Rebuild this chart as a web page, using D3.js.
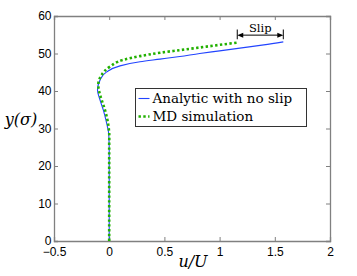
<!DOCTYPE html>
<html>
<head>
<meta charset="utf-8">
<script src="https://cdn.jsdelivr.net/npm/d3@7"></script>
<style>
  body { margin: 0; background: #fff; }
  svg { display: block; }
</style>
</head>
<body>
<script>
// analytic profile (no slip)
var analyticY = [0, 10, 20, 25, 27, 29, 31.4, 34.9, 37.6, 40.3, 42.9, 45.1, 46.7, 47.8, 48.5, 49.2, 50.0, 50.7, 51.5, 52.3, 53.1];
var analyticU = [0, 0, 0, 0, -0.002, -0.006, -0.023, -0.053, -0.083, -0.106, -0.083, -0.023, 0.098, 0.279, 0.46, 0.64, 0.82, 1.0, 1.2, 1.4, 1.577];

// MD simulation profile
var mdY = [0, 10, 20, 26, 27.8, 30.9, 34.9, 37.6, 39.5, 41.6, 44.3, 46.5, 48.3, 49.3, 50.2, 50.9, 51.6, 52.3, 52.9];
var mdU = [0, 0, 0, 0, 0.001, -0.008, -0.038, -0.068, -0.088, -0.099, -0.068, 0.007, 0.128, 0.279, 0.461, 0.64, 0.82, 1.0, 1.16];

var xTicks = [-0.5, 0, 0.5, 1, 1.5, 2];
var yTicks = [0, 10, 20, 30, 40, 50, 60];
var legendLabels = ["Analytic with no slip", "MD simulation"];

var width = 357, height = 276;
var margin = {top: 16, right: 27, bottom: 35, left: 54};
var w = width - margin.left - margin.right, h = height - margin.top - margin.bottom;
var serif = "'DejaVu Serif', 'Liberation Serif', serif";
var sans = "'Liberation Sans', Arial, sans-serif";

var svg = d3.select("body").append("svg")
  .attr("width", width)
  .attr("height", height);

var g = svg.append("g").attr("transform", "translate(" + margin.left + "," + margin.top + ")");

var x = d3.scaleLinear().domain([-0.5, 2]).range([0, w]);
var y = d3.scaleLinear().domain([0, 60]).range([h, 0]);

var axisColor = "#808080";

// axes, MATLAB style: ticks inside on all four sides
var xAxis = g.append("g").attr("transform", "translate(0," + h + ")")
  .call(d3.axisBottom(x).tickValues(xTicks).tickSize(-4).tickPadding(6).tickFormat(d3.format("")));
var yAxis = g.append("g")
  .call(d3.axisLeft(y).tickValues(yTicks).tickSize(-4).tickPadding(2.5));
var xTop = g.append("g")
  .call(d3.axisTop(x).tickValues(xTicks).tickSize(-4).tickFormat(""));
var yRight = g.append("g").attr("transform", "translate(" + w + ",0)")
  .call(d3.axisRight(y).tickValues(yTicks).tickSize(-4).tickFormat(""));

[xAxis, yAxis, xTop, yRight].forEach(function(a){
  a.attr("font-family", sans).attr("font-size", 12);
  a.select(".domain").attr("stroke", axisColor).attr("stroke-width", 1.3);
  a.selectAll(".tick line").attr("stroke", axisColor);
  a.selectAll(".tick text").attr("fill", "#000");
});
xAxis.selectAll(".tick text").text(function(d){ return d < 0 ? "\u2212" + Math.abs(d) : d; });

var line = d3.line()
  .x(function(d){ return x(d[0]); })
  .y(function(d){ return y(d[1]); })
  .curve(d3.curveMonotoneY);

var analytic = analyticU.map(function(u, i){ return [u, analyticY[i]]; });
var md = mdU.map(function(u, i){ return [u, mdY[i]]; });

g.append("path").datum(analytic)
  .attr("d", line)
  .attr("fill", "none")
  .attr("stroke", "#2244ff")
  .attr("stroke-width", 1.1);

g.append("path").datum(md)
  .attr("d", line)
  .attr("fill", "none")
  .attr("stroke", "#22b000")
  .attr("stroke-width", 2.6)
  .attr("stroke-dasharray", "2.4,2.4");

// slip annotation
var uA = analyticU[analyticU.length - 1], uM = mdU[mdU.length - 1];
var slipY = 54.9;
[uM, uA].forEach(function(u){
  g.append("line")
    .attr("x1", x(u)).attr("x2", x(u))
    .attr("y1", y(53.8)).attr("y2", y(56.4))
    .attr("stroke", "#000").attr("stroke-width", 1);
});
g.append("line")
  .attr("x1", x(uM) + 4).attr("x2", x(uA) - 4)
  .attr("y1", y(slipY)).attr("y2", y(slipY))
  .attr("stroke", "#000").attr("stroke-width", 1);
[[uM, 1], [uA, -1]].forEach(function(p){
  var px = x(p[0]), py = y(slipY), s = p[1];
  g.append("path")
    .attr("d", "M" + px + "," + py + "L" + (px + s * 6) + "," + (py - 2.5) + "L" + (px + s * 6) + "," + (py + 2.5) + "Z")
    .attr("fill", "#000");
});
g.append("text")
  .attr("x", x((uM + uA) / 2)).attr("y", y(slipY) - 3)
  .attr("text-anchor", "middle")
  .attr("font-family", serif)
  .attr("font-size", 11.5)
  .text("Slip");

// legend
var legend = svg.append("g").attr("transform", "translate(135.5,88.5)");
legend.append("rect")
  .attr("width", 171).attr("height", 38)
  .attr("fill", "#fff").attr("stroke", "#333").attr("stroke-width", 1);
var legendStyles = [
  {color: "#2244ff", sw: 1.1, dash: null},
  {color: "#22b000", sw: 2.6, dash: "2.4,2.4"}
];
legendLabels.forEach(function(lbl, i){
  var ly = 10 + i * 18;
  legend.append("line")
    .attr("x1", 3).attr("x2", 14).attr("y1", ly).attr("y2", ly)
    .attr("stroke", legendStyles[i].color)
    .attr("stroke-width", legendStyles[i].sw)
    .attr("stroke-dasharray", legendStyles[i].dash);
  legend.append("text")
    .attr("x", 17).attr("y", ly + 4.5)
    .attr("font-family", serif)
    .attr("font-size", 13.5)
    .text(lbl);
});

// axis labels
svg.append("text")
  .attr("x", 193).attr("y", 267)
  .attr("text-anchor", "middle")
  .attr("font-family", serif)
  .attr("font-size", 16).attr("font-style", "italic")
  .text("u/U");
svg.append("text")
  .attr("x", 21).attr("y", 125)
  .attr("text-anchor", "middle")
  .attr("font-family", serif)
  .attr("font-size", 16).attr("font-style", "italic")
  .text("y(σ)");
</script>
</body>
</html>
